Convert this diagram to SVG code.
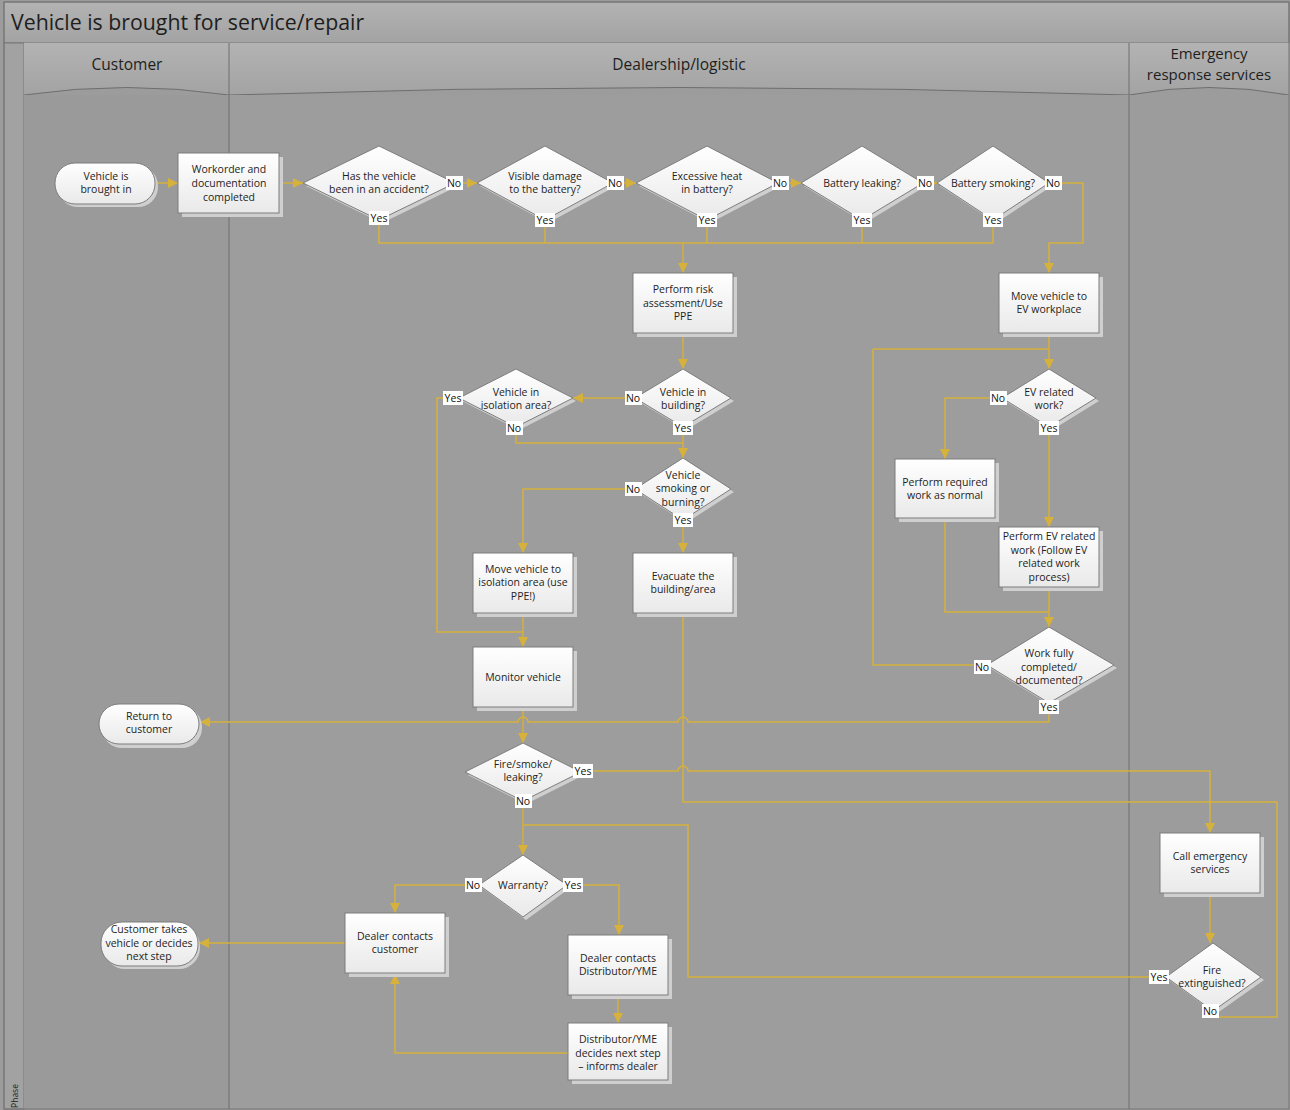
<svg xmlns="http://www.w3.org/2000/svg" width="1290" height="1110" viewBox="0 0 1290 1110">
<defs>
<linearGradient id="g" x1="0" y1="0" x2="0" y2="1"><stop offset="0" stop-color="#ffffff"/><stop offset="1" stop-color="#e9e9e9"/></linearGradient>
<linearGradient id="hg" x1="0" y1="0" x2="0" y2="1"><stop offset="0" stop-color="#b3b3b3"/><stop offset="1" stop-color="#a3a3a3"/></linearGradient>
<marker id="a" markerWidth="10" markerHeight="10" refX="10" refY="5" orient="auto" markerUnits="userSpaceOnUse"><path d="M0,0 L10,5 L0,10 z" fill="#D6B13C"/></marker>
<style>
.conn{fill:none;stroke:#D6B13C;stroke-width:1.5}
.box{fill:url(#g);stroke:#7d7d7d;stroke-width:1}
.sh{fill:#cfcfcf}
.t{font-family:"Open Sans","Noto Sans",sans-serif;font-size:10.5px;fill:#1e1e1e;text-anchor:middle}
.h{font-family:"Open Sans","Noto Sans",sans-serif;font-size:15.5px;fill:#1e1e1e;text-anchor:middle}
.h2{font-family:"Open Sans","Noto Sans",sans-serif;font-size:15px;fill:#1e1e1e;text-anchor:middle}
.lb{fill:#ffffff}
.lt{font-family:"Open Sans","Noto Sans",sans-serif;font-size:10.5px;fill:#111;text-anchor:middle}
.lane{stroke:#6e6e6e;stroke-width:1;fill:none}
</style>
</defs>
<rect x="0" y="0" width="1290" height="1110" fill="#9c9c9c"/>
<g id="pool">
<rect x="4" y="2" width="1285" height="41" fill="url(#hg)" stroke="#777"/>
<text x="11" y="30" font-family="'Open Sans','Noto Sans',sans-serif" font-size="21.3px" fill="#1e1e1e">Vehicle is brought for service/repair</text>
<rect x="4" y="43" width="20" height="1066" fill="#a2a2a2" stroke="#777"/>
<text x="18" y="1096" transform="rotate(-90 18 1096)" font-family="'Open Sans','Noto Sans',sans-serif" font-size="8.5px" fill="#1e1e1e" text-anchor="middle">Phase</text>
<path d="M24,43 H1289 V95 Q1209,80 1129,95 Q679,80 229,95 Q127,80 24,95 Z" fill="url(#hg)"/>
<path class="lane" d="M24,95 Q127,80 229,95 Q679,80 1129,95 Q1209,80 1289,95"/>
<rect x="24" y="95" width="205" height="1014" fill="#9a9a9a"/>
<rect x="229" y="95" width="900" height="1014" fill="#9d9d9d"/>
<rect x="1129" y="95" width="160" height="1014" fill="#9c9c9c"/>
<line class="lane" x1="229" y1="43" x2="229" y2="1109"/>
<line class="lane" x1="1129" y1="43" x2="1129" y2="1109"/>
<rect x="4" y="2" width="1285" height="1107" fill="none" stroke="#777"/>
<text class="h" x="127" y="70">Customer</text>
<text class="h" x="679" y="70">Dealership/logistic</text>
<text class="h2" x="1209" y="59">Emergency</text>
<text class="h2" x="1209" y="80">response services</text>
</g>
<g id="connectors">
<path class="conn" d="M157,183 H178" marker-end="url(#a)"/>
<path class="conn" d="M279,183 H303" marker-end="url(#a)"/>
<path class="conn" d="M455,183 H477" marker-end="url(#a)"/>
<path class="conn" d="M613,183 H636" marker-end="url(#a)"/>
<path class="conn" d="M778,183 H801" marker-end="url(#a)"/>
<path class="conn" d="M923,183 H937" marker-end="url(#a)"/>
<path class="conn" d="M1049,183 H1083 V243 H1049 V273" marker-end="url(#a)"/>
<path class="conn" d="M379,220 V243 H993 V220 M545,220 V243 M707,220 V243 M862,220 V243"/>
<path class="conn" d="M683,243 V273" marker-end="url(#a)"/>
<path class="conn" d="M683,333 V369" marker-end="url(#a)"/>
<path class="conn" d="M635,398 H573" marker-end="url(#a)"/>
<path class="conn" d="M516,427 V443 H683"/>
<path class="conn" d="M683,427 V458" marker-end="url(#a)"/>
<path class="conn" d="M459,398 H437 V632 H523"/>
<path class="conn" d="M635,489 H523 V553" marker-end="url(#a)"/>
<path class="conn" d="M683,520 V553" marker-end="url(#a)"/>
<path class="conn" d="M523,613 V647" marker-end="url(#a)"/>
<path class="conn" d="M523,707 V743" marker-end="url(#a)"/>
<path class="conn" d="M683,613 V802 H1277 V1017 H1213 V1011"/>
<path class="conn" d="M1049,703 V722 H688 A5,5 0 0 0 678,722 H528 A5,5 0 0 0 518,722 H200" marker-end="url(#a)"/>
<path class="conn" d="M581,771 H678 A5,5 0 0 1 688,771 H1210 V833" marker-end="url(#a)"/>
<path class="conn" d="M523,801 V855" marker-end="url(#a)"/>
<path class="conn" d="M1166,977 H688 V825 H523"/>
<path class="conn" d="M479,885 H395 V913" marker-end="url(#a)"/>
<path class="conn" d="M567,885 H619 V935" marker-end="url(#a)"/>
<path class="conn" d="M345,943 H199" marker-end="url(#a)"/>
<path class="conn" d="M618,995 V1023" marker-end="url(#a)"/>
<path class="conn" d="M568,1053 H395 V974" marker-end="url(#a)"/>
<path class="conn" d="M1210,893 V943" marker-end="url(#a)"/>
<path class="conn" d="M1049,333 V369" marker-end="url(#a)"/>
<path class="conn" d="M873,349 H1049"/>
<path class="conn" d="M1002,398 H945 V459" marker-end="url(#a)"/>
<path class="conn" d="M1049,427 V527" marker-end="url(#a)"/>
<path class="conn" d="M945,518 V612 H1049"/>
<path class="conn" d="M1049,587 V627" marker-end="url(#a)"/>
<path class="conn" d="M987,665 H873 V349"/>
</g>
<g id="n-start"><rect class="sh" x="58" y="166" width="100" height="41" rx="20"/><rect class="box" x="55" y="163" width="100" height="41" rx="20"/><text class="t" x="106" y="180">Vehicle is</text><text class="t" x="106" y="193">brought in</text></g>
<g id="n-workorder"><rect class="sh" x="182" y="157" width="101" height="60"/><rect class="box" x="178" y="153" width="101" height="60"/><text class="t" x="229" y="173">Workorder and</text><text class="t" x="229" y="187">documentation</text><text class="t" x="229" y="201">completed</text></g>
<g id="n-accident"><polygon class="sh" points="306,186 382,149 458,186 382,223"/><polygon class="box" points="303,183 379,146 455,183 379,220"/><text class="t" x="379" y="180">Has the vehicle</text><text class="t" x="379" y="193">been in an accident?</text></g>
<g id="n-damage"><polygon class="sh" points="480,186 548,149 616,186 548,223"/><polygon class="box" points="477,183 545,146 613,183 545,220"/><text class="t" x="545" y="180">Visible damage</text><text class="t" x="545" y="193">to the battery?</text></g>
<g id="n-heat"><polygon class="sh" points="639,186 710,149 781,186 710,223"/><polygon class="box" points="636,183 707,146 778,183 707,220"/><text class="t" x="707" y="180">Excessive heat</text><text class="t" x="707" y="193">in battery?</text></g>
<g id="n-leaking"><polygon class="sh" points="804,186 865,149 926,186 865,223"/><polygon class="box" points="801,183 862,146 923,183 862,220"/><text class="t" x="862" y="187">Battery leaking?</text></g>
<g id="n-smoking"><polygon class="sh" points="940,186 996,149 1052,186 996,223"/><polygon class="box" points="937,183 993,146 1049,183 993,220"/><text class="t" x="993" y="187">Battery smoking?</text></g>
<g id="n-risk"><rect class="sh" x="637" y="277" width="100" height="60"/><rect class="box" x="633" y="273" width="100" height="60"/><text class="t" x="683" y="293">Perform risk</text><text class="t" x="683" y="307">assessment/Use</text><text class="t" x="683" y="320">PPE</text></g>
<g id="n-building"><polygon class="sh" points="638,401 686,372 734,401 686,430"/><polygon class="box" points="635,398 683,369 731,398 683,427"/><text class="t" x="683" y="396">Vehicle in</text><text class="t" x="683" y="409">building?</text></g>
<g id="n-isolation"><polygon class="sh" points="462,401 519,372 576,401 519,430"/><polygon class="box" points="459,398 516,369 573,398 516,427"/><text class="t" x="516" y="396">Vehicle in</text><text class="t" x="516" y="409">isolation area?</text></g>
<g id="n-burning"><polygon class="sh" points="638,492 686,461 734,492 686,523"/><polygon class="box" points="635,489 683,458 731,489 683,520"/><text class="t" x="683" y="479">Vehicle</text><text class="t" x="683" y="492">smoking or</text><text class="t" x="683" y="506">burning?</text></g>
<g id="n-move-iso"><rect class="sh" x="477" y="557" width="100" height="60"/><rect class="box" x="473" y="553" width="100" height="60"/><text class="t" x="523" y="573">Move vehicle to</text><text class="t" x="523" y="586">isolation area (use</text><text class="t" x="523" y="600">PPE!)</text></g>
<g id="n-evacuate"><rect class="sh" x="637" y="557" width="100" height="60"/><rect class="box" x="633" y="553" width="100" height="60"/><text class="t" x="683" y="580">Evacuate the</text><text class="t" x="683" y="593">building/area</text></g>
<g id="n-monitor"><rect class="sh" x="477" y="651" width="100" height="60"/><rect class="box" x="473" y="647" width="100" height="60"/><text class="t" x="523" y="681">Monitor vehicle</text></g>
<g id="n-move-ev"><rect class="sh" x="1003" y="277" width="100" height="60"/><rect class="box" x="999" y="273" width="100" height="60"/><text class="t" x="1049" y="300">Move vehicle to</text><text class="t" x="1049" y="313">EV workplace</text></g>
<g id="n-ev"><polygon class="sh" points="1005,401 1052,372 1099,401 1052,430"/><polygon class="box" points="1002,398 1049,369 1096,398 1049,427"/><text class="t" x="1049" y="396">EV related</text><text class="t" x="1049" y="409">work?</text></g>
<g id="n-normal"><rect class="sh" x="899" y="463" width="100" height="59"/><rect class="box" x="895" y="459" width="100" height="59"/><text class="t" x="945" y="486">Perform required</text><text class="t" x="945" y="499">work as normal</text></g>
<g id="n-evwork"><rect class="sh" x="1003" y="531" width="100" height="60"/><rect class="box" x="999" y="527" width="100" height="60"/><text class="t" x="1049" y="540">Perform EV related</text><text class="t" x="1049" y="554">work (Follow EV</text><text class="t" x="1049" y="567">related work</text><text class="t" x="1049" y="581">process)</text></g>
<g id="n-complete"><polygon class="sh" points="990,668 1052,630 1117,668 1052,706"/><polygon class="box" points="987,665 1049,627 1114,665 1049,703"/><text class="t" x="1049" y="657">Work fully</text><text class="t" x="1049" y="671">completed/</text><text class="t" x="1049" y="684">documented?</text></g>
<g id="n-return"><rect class="sh" x="102" y="707" width="100" height="41" rx="20"/><rect class="box" x="99" y="704" width="100" height="40" rx="20"/><text class="t" x="149" y="720">Return to</text><text class="t" x="149" y="733">customer</text></g>
<g id="n-fire"><polygon class="sh" points="468,775 526,746 584,775 526,804"/><polygon class="box" points="465,772 523,743 581,772 523,801"/><text class="t" x="523" y="768">Fire/smoke/</text><text class="t" x="523" y="781">leaking?</text></g>
<g id="n-warranty"><polygon class="sh" points="482,888 526,858 570,888 526,920"/><polygon class="box" points="479,885 523,855 567,885 523,917"/><text class="t" x="523" y="889">Warranty?</text></g>
<g id="n-dealer-cust"><rect class="sh" x="349" y="917" width="100" height="60"/><rect class="box" x="345" y="913" width="100" height="60"/><text class="t" x="395" y="940">Dealer contacts</text><text class="t" x="395" y="953">customer</text></g>
<g id="n-cust-takes"><rect class="sh" x="104" y="925" width="96" height="44" rx="21"/><rect class="box" x="101" y="922" width="97" height="44" rx="21"/><text class="t" x="149" y="933">Customer takes</text><text class="t" x="149" y="947">vehicle or decides</text><text class="t" x="149" y="960">next step</text></g>
<g id="n-dealer-dist"><rect class="sh" x="572" y="939" width="100" height="60"/><rect class="box" x="568" y="935" width="100" height="60"/><text class="t" x="618" y="962">Dealer contacts</text><text class="t" x="618" y="975">Distributor/YME</text></g>
<g id="n-dist"><rect class="sh" x="572" y="1027" width="100" height="57"/><rect class="box" x="568" y="1023" width="100" height="57"/><text class="t" x="618" y="1043">Distributor/YME</text><text class="t" x="618" y="1057">decides next step</text><text class="t" x="618" y="1070">– informs dealer</text></g>
<g id="n-call"><rect class="sh" x="1164" y="837" width="100" height="60"/><rect class="box" x="1160" y="833" width="100" height="60"/><text class="t" x="1210" y="860">Call emergency</text><text class="t" x="1210" y="873">services</text></g>
<g id="n-extinguished"><polygon class="sh" points="1169,980 1216,946 1264,980 1216,1014"/><polygon class="box" points="1166,977 1213,943 1261,977 1213,1011"/><text class="t" x="1212" y="974">Fire</text><text class="t" x="1212" y="987">extinguished?</text></g>
<g id="labels">
<rect class="lb" x="446" y="176" width="17" height="14"/><text class="lt" x="454" y="187">No</text>
<rect class="lb" x="607" y="176" width="17" height="14"/><text class="lt" x="615" y="187">No</text>
<rect class="lb" x="772" y="176" width="17" height="14"/><text class="lt" x="780" y="187">No</text>
<rect class="lb" x="917" y="176" width="17" height="14"/><text class="lt" x="925" y="187">No</text>
<rect class="lb" x="1045" y="176" width="17" height="14"/><text class="lt" x="1053" y="187">No</text>
<rect class="lb" x="369" y="211" width="20" height="14"/><text class="lt" x="379" y="222">Yes</text>
<rect class="lb" x="535" y="213" width="20" height="14"/><text class="lt" x="545" y="224">Yes</text>
<rect class="lb" x="697" y="213" width="20" height="14"/><text class="lt" x="707" y="224">Yes</text>
<rect class="lb" x="852" y="213" width="20" height="14"/><text class="lt" x="862" y="224">Yes</text>
<rect class="lb" x="983" y="213" width="20" height="14"/><text class="lt" x="993" y="224">Yes</text>
<rect class="lb" x="443" y="391" width="20" height="14"/><text class="lt" x="453" y="402">Yes</text>
<rect class="lb" x="625" y="391" width="17" height="14"/><text class="lt" x="633" y="402">No</text>
<rect class="lb" x="506" y="421" width="17" height="14"/><text class="lt" x="514" y="432">No</text>
<rect class="lb" x="673" y="421" width="20" height="14"/><text class="lt" x="683" y="432">Yes</text>
<rect class="lb" x="625" y="482" width="17" height="14"/><text class="lt" x="633" y="493">No</text>
<rect class="lb" x="673" y="513" width="20" height="14"/><text class="lt" x="683" y="524">Yes</text>
<rect class="lb" x="990" y="391" width="17" height="14"/><text class="lt" x="998" y="402">No</text>
<rect class="lb" x="1039" y="421" width="20" height="14"/><text class="lt" x="1049" y="432">Yes</text>
<rect class="lb" x="974" y="660" width="17" height="14"/><text class="lt" x="982" y="671">No</text>
<rect class="lb" x="1039" y="700" width="20" height="14"/><text class="lt" x="1049" y="711">Yes</text>
<rect class="lb" x="573" y="764" width="20" height="14"/><text class="lt" x="583" y="775">Yes</text>
<rect class="lb" x="515" y="794" width="17" height="14"/><text class="lt" x="523" y="805">No</text>
<rect class="lb" x="465" y="878" width="17" height="14"/><text class="lt" x="473" y="889">No</text>
<rect class="lb" x="563" y="878" width="20" height="14"/><text class="lt" x="573" y="889">Yes</text>
<rect class="lb" x="1149" y="970" width="20" height="14"/><text class="lt" x="1159" y="981">Yes</text>
<rect class="lb" x="1202" y="1004" width="17" height="14"/><text class="lt" x="1210" y="1015">No</text>
</g>
</svg>
